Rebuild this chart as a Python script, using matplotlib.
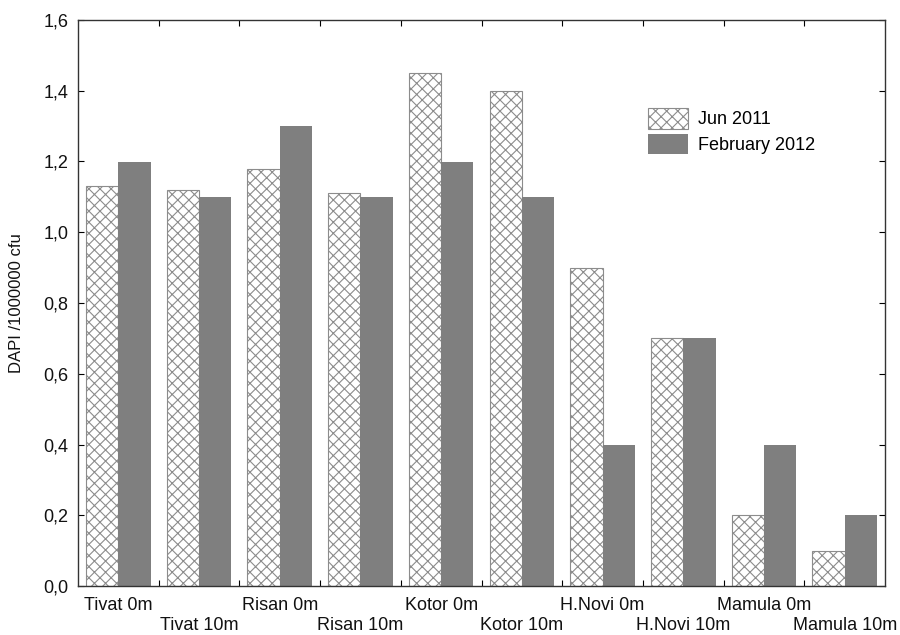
import numpy as np
import matplotlib.pyplot as plt
from matplotlib.ticker import FuncFormatter

plt.rcParams['font.family'] = ['Liberation Sans', 'DejaVu Sans']
plt.rcParams['hatch.color'] = '#8c8c8c'
plt.rcParams['hatch.linewidth'] = 0.8

sites = ["Tivat 0m", "Tivat 10m", "Risan 0m", "Risan 10m", "Kotor 0m",
         "Kotor 10m", "H.Novi 0m", "H.Novi 10m", "Mamula 0m", "Mamula 10m"]
jun_2011 = [1.13, 1.12, 1.18, 1.11, 1.45, 1.40, 0.90, 0.70, 0.20, 0.10]
feb_2012 = [1.20, 1.10, 1.30, 1.10, 1.20, 1.10, 0.40, 0.70, 0.40, 0.20]

fig = plt.figure(figsize=(9, 6.35), dpi=100)
ax = fig.add_axes([78 / 900, 1 - 586 / 635, 807 / 900, 566 / 635])

x = np.arange(len(sites))
w = 0.4
ax.bar(x - w / 2, jun_2011, w, facecolor='white', edgecolor='#8c8c8c',
       hatch='xxx', linewidth=0.8, label='Jun 2011')
ax.bar(x + w / 2, feb_2012, w, color='#7f7f7f', linewidth=0,
       label='February 2012')

ax.set_xlim(-0.5, len(sites) - 0.5)
ax.set_ylim(0, 1.6)
ax.set_yticks(np.arange(0, 1.61, 0.2))
ax.yaxis.set_major_formatter(FuncFormatter(lambda v, p: f"{v:.1f}".replace('.', ',')))

# ticks at group boundaries, labels staggered at group centres
ax.set_xticks(np.arange(0.5, len(sites) - 0.5, 1))
ax.set_xticklabels([])
for i, s in enumerate(sites):
    yoff = -0.034 if i % 2 == 0 else -0.069
    ax.text(i, yoff, s, transform=ax.get_xaxis_transform(), ha='center',
            va='center', fontsize=13, color='#111111')

ax.tick_params(direction='in', top=True, right=True, length=4, width=0.8,
               labelsize=13, labelcolor='#111111', pad=7)
for sp in ax.spines.values():
    sp.set_linewidth(1.0)
    sp.set_color('#333333')

ax.set_ylabel("DAPI /1000000 cfu", fontsize=12, color='#111111', labelpad=14)

ax.legend(loc='upper left', bbox_to_anchor=(0.695, 0.86), frameon=False,
          fontsize=13, handlelength=2.2, handleheight=1.35,
          handletextpad=0.55, labelspacing=0.3, borderpad=0)

plt.savefig("out.png", dpi=100)
plt.close()
